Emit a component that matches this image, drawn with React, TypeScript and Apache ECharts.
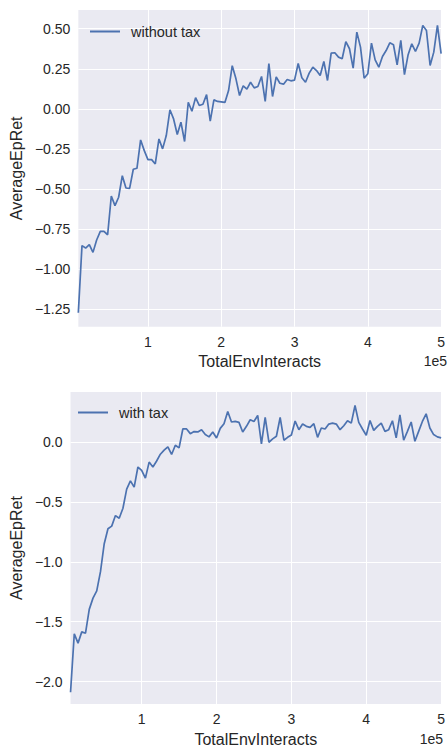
import React, { useEffect, useRef } from "react";
import * as echarts from "echarts";

const steps = Array.from({ length: 100 }, (_, i) => (i + 1) * 5000);

const withoutTax = [
  -1.273, -0.854, -0.869, -0.848, -0.896, -0.819, -0.765, -0.765, -0.786, -0.544,
  -0.604, -0.552, -0.417, -0.494, -0.496, -0.377, -0.371, -0.194, -0.261, -0.317,
  -0.317, -0.344, -0.188, -0.25, -0.167, -0.006, -0.063, -0.16, -0.083, -0.204,
  0.041, -0.015, 0.07, 0.021, 0.029, 0.089, -0.077, 0.056, 0.046, 0.044,
  0.04, 0.114, 0.269, 0.189, 0.083, 0.144, 0.123, 0.166, 0.131, 0.139,
  0.202, 0.046, 0.283, 0.077, 0.2, 0.16, 0.154, 0.183, 0.175, 0.179,
  0.283, 0.194, 0.166, 0.223, 0.26, 0.239, 0.208, 0.296, 0.177, 0.348,
  0.35, 0.323, 0.313, 0.419, 0.375, 0.254, 0.479, 0.385, 0.191, 0.219,
  0.41, 0.306, 0.26, 0.327, 0.364, 0.412, 0.4, 0.275, 0.427, 0.214,
  0.338, 0.406, 0.358, 0.41, 0.521, 0.489, 0.271, 0.354, 0.521, 0.344,
];

const withTax = [
  -2.09, -1.602, -1.679, -1.585, -1.596, -1.397, -1.303, -1.243, -1.082, -0.848,
  -0.723, -0.701, -0.613, -0.635, -0.552, -0.392, -0.323, -0.375, -0.207, -0.235,
  -0.3, -0.166, -0.207, -0.157, -0.1, -0.066, -0.038, -0.102, -0.025, -0.047,
  0.111, 0.111, 0.072, 0.089, 0.086, 0.105, 0.064, 0.045, 0.086, 0.036,
  0.116, 0.155, 0.257, 0.169, 0.174, 0.166, 0.086, 0.133, 0.188, 0.174,
  0.224, -0.013, 0.207, 0.0, 0.028, 0.05, 0.207, 0.017, 0.041, 0.061,
  0.177, 0.105, 0.152, 0.133, 0.124, 0.155, 0.041, 0.119, 0.111, 0.152,
  0.16, 0.152, 0.105, 0.138, 0.18, 0.16, 0.307, 0.166, 0.111, 0.058,
  0.182, 0.099, 0.133, 0.16, 0.091, 0.105, 0.18, 0.036, 0.229, 0.017,
  0.091, 0.169, 0.008, 0.091, 0.174, 0.238, 0.119, 0.064, 0.045, 0.036,
];

const xTicks = [100000, 200000, 300000, 400000, 500000];
const yTicksTop = [-1.25, -1.0, -0.75, -0.5, -0.25, 0.0, 0.25, 0.5];
const yTicksBottom = [-2.0, -1.5, -1.0, -0.5, 0.0];

const FONT = "'Liberation Sans', Arial, sans-serif";
const TXT = "#262626";
const LINE = "#4C72B0";
const BG = "#EAEAF2";

const fmt = (v: number, d: number) => (v < 0 ? "\u2212" : "") + Math.abs(v).toFixed(d);

function xAxis(gridIndex: number) {
  return {
    type: "value",
    gridIndex,
    min: 5000,
    max: 500000,
    name: "TotalEnvInteracts",
    nameLocation: "middle",
    nameGap: 27,
    nameTextStyle: { fontFamily: FONT, fontSize: 16, color: TXT },
    axisLine: { show: false },
    axisTick: { show: false, customValues: xTicks },
    axisLabel: {
      customValues: xTicks,
      formatter: (v: number) => String(Math.round(v / 100000)),
      fontFamily: FONT,
      fontSize: 14,
      color: TXT,
      margin: 8,
      showMaxLabel: true,
    },
    splitLine: { show: true, lineStyle: { color: "#ffffff", width: 1 } },
  };
}

function yAxis(gridIndex: number, min: number, max: number, ticks: number[], dec: number, gap: number) {
  return {
    type: "value",
    gridIndex,
    min,
    max,
    name: "AverageEpRet",
    nameLocation: "middle",
    nameGap: gap,
    nameTextStyle: { fontFamily: FONT, fontSize: 16, color: TXT },
    axisLine: { show: false },
    axisTick: { show: false, customValues: ticks },
    axisLabel: {
      customValues: ticks,
      formatter: (v: number) => fmt(v, dec),
      fontFamily: FONT,
      fontSize: 14,
      color: TXT,
      margin: 8,
    },
    splitLine: { show: true, lineStyle: { color: "#ffffff", width: 1 } },
  };
}

export default function App() {
  const ref = useRef<HTMLDivElement>(null);
  useEffect(() => {
    if (!ref.current) return;
    const chart = echarts.init(ref.current, null, { renderer: "svg" });
    const top = steps.map((s, i) => [s, withoutTax[i]]);
    const bottom = steps.map((s, i) => [s, withTax[i]]);
    chart.setOption({
      animation: false,
      backgroundColor: "#ffffff",
      grid: [
        { left: 76.7, top: 10, width: 371, height: 316.7, backgroundColor: BG, show: true, borderWidth: 0 },
        { left: 65, top: 392, width: 379, height: 314.7, backgroundColor: BG, show: true, borderWidth: 0 },
      ],
      xAxis: [xAxis(0), xAxis(1)],
      yAxis: [
        yAxis(0, -1.36, 0.617, yTicksTop, 2, 44),
        yAxis(1, -2.188, 0.42, yTicksBottom, 1, 41),
      ],
      legend: [
        {
          data: ["without tax"],
          left: 90,
          top: 24,
          padding: 0,
          icon: "rect",
          itemWidth: 30,
          itemHeight: 2,
          textStyle: { fontFamily: FONT, fontSize: 14.5, color: TXT, padding: [0, 0, 0, 6] },
        },
        {
          data: ["with tax"],
          left: 78,
          top: 405,
          padding: 0,
          icon: "rect",
          itemWidth: 30,
          itemHeight: 2,
          textStyle: { fontFamily: FONT, fontSize: 14.5, color: TXT, padding: [0, 0, 0, 6] },
        },
      ],
      graphic: [
        {
          type: "text",
          right: 1,
          top: 354,
          style: { text: "1e5", font: `14px ${FONT}`, fill: TXT },
        },
        {
          type: "text",
          right: 5,
          top: 732,
          style: { text: "1e5", font: `14px ${FONT}`, fill: TXT },
        },
      ],
      series: [
        {
          name: "without tax",
          type: "line",
          xAxisIndex: 0,
          yAxisIndex: 0,
          data: top,
          symbol: "none",
          lineStyle: { color: LINE, width: 1.7 },
          itemStyle: { color: LINE },
        },
        {
          name: "with tax",
          type: "line",
          xAxisIndex: 1,
          yAxisIndex: 1,
          data: bottom,
          symbol: "none",
          lineStyle: { color: LINE, width: 1.7 },
          itemStyle: { color: LINE },
        },
      ],
    });
    return () => chart.dispose();
  }, []);
  return (
    <div
      ref={ref}
      style={{ position: "absolute", left: 0, top: 0, width: 448, height: 748 }}
    />
  );
}
